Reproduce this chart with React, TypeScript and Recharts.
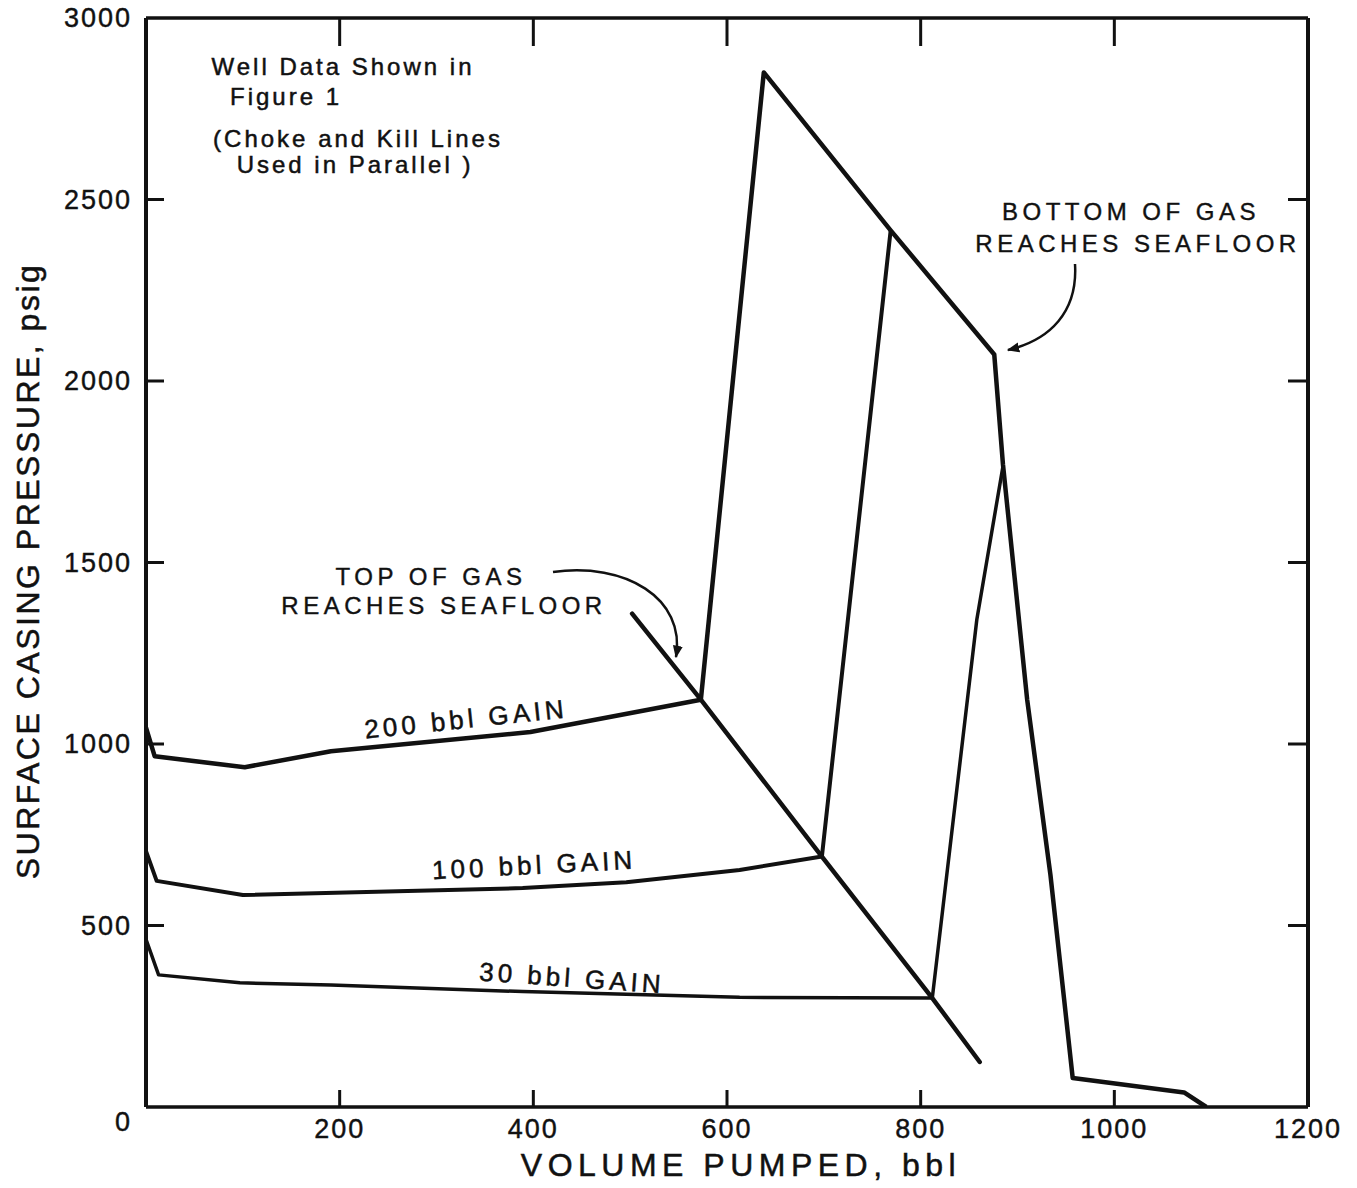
import React from 'react';
import { LineChart, Line, XAxis, YAxis } from 'recharts';

// axis ticks
const xTicks = [0, 200, 400, 600, 800, 1000, 1200];
const yTicks = [0, 500, 1000, 1500, 2000, 2500, 3000];

// volume pumped (bbl) vs surface casing pressure (psig)
const gain200 = [
  { x: 0, y: 1045 },
  { x: 9, y: 966 },
  { x: 102, y: 936 },
  { x: 191, y: 980 },
  { x: 397, y: 1033 },
  { x: 573, y: 1122 },
  { x: 638, y: 2850 },
  { x: 769, y: 2415 },
  { x: 876, y: 2073 },
  { x: 885, y: 1770 },
  { x: 910, y: 1122 },
  { x: 934, y: 640 },
  { x: 948, y: 300 },
  { x: 957, y: 80 },
  { x: 1072, y: 40 },
  { x: 1095, y: 0 },
];

const gain100 = [
  { x: 0, y: 705 },
  { x: 11, y: 623 },
  { x: 100, y: 584 },
  { x: 389, y: 603 },
  { x: 496, y: 619 },
  { x: 613, y: 653 },
  { x: 698, y: 690 },
  { x: 769, y: 2415 },
];

const gain30 = [
  { x: 0, y: 462 },
  { x: 13, y: 364 },
  { x: 97, y: 342 },
  { x: 191, y: 336 },
  { x: 389, y: 318 },
  { x: 613, y: 302 },
  { x: 812, y: 300 },
  { x: 858, y: 1343 },
  { x: 885, y: 1765 },
];

// "top of gas reaches seafloor" line
const topOfGas = [
  { x: 502, y: 1359 },
  { x: 573, y: 1122 },
  { x: 698, y: 690 },
  { x: 812, y: 300 },
  { x: 861, y: 124 },
];

const INK = '#111';
const FONT = '"Liberation Sans", Arial, sans-serif';

// inward tick marks drawn by hand, label only on bottom/left
const EdgeTick = (props: any) => {
  const { x, y, payload, side } = props;
  const v = payload.value;
  const edge = side === 'bottom' || side === 'top' ? v === 0 || v === 1200 : v === 0 || v === 3000;
  const lbl = { fontSize: 27, letterSpacing: 2, fill: INK, fontFamily: FONT, stroke: INK, strokeWidth: 0.4 };
  let mark = null;
  let label = null;
  if (side === 'bottom') {
    if (!edge) mark = <line x1={x} x2={x} y1={y} y2={y - 17} stroke={INK} strokeWidth={3} />;
    if (v !== 0) label = <text x={x} y={y + 12} dy="0.71em" textAnchor="middle" {...lbl}>{v}</text>;
  } else if (side === 'top') {
    if (!edge) mark = <line x1={x} x2={x} y1={y} y2={y + 28} stroke={INK} strokeWidth={3} />;
  } else if (side === 'left') {
    if (!edge) mark = <line x1={x} x2={x + 18} y1={y} y2={y} stroke={INK} strokeWidth={3} />;
    label = (
      <text x={x - 14} y={y + (v === 0 ? 15 : 0)} dy="0.35em" textAnchor="end" {...lbl}>
        {v}
      </text>
    );
  } else {
    if (!edge) mark = <line x1={x} x2={x - 20} y1={y} y2={y} stroke={INK} strokeWidth={3} />;
  }
  return (
    <g>
      {mark}
      {label}
    </g>
  );
};

const Notes = () => {
  const t = { fill: INK, fontFamily: FONT, textAnchor: 'middle' as const, dominantBaseline: 'central' as const };
  return (
    <svg width={1357} height={1188} style={{ position: 'absolute', left: 0, top: 0, pointerEvents: 'none' }}>
      <defs>
        <marker id="head" viewBox="0 0 10 10" refX="9" refY="5" markerWidth="5" markerHeight="5" orient="auto">
          <path d="M0,1 L10,5 L0,9 Z" fill={INK} />
        </marker>
      </defs>

      <g fontSize={24} letterSpacing={3} stroke={INK} strokeWidth={0.5}>
        <text {...t} x={343} y={66}>Well Data Shown in</text>
        <text {...t} x={286} y={96}>Figure 1</text>
        <text {...t} x={358} y={138}>(Choke and Kill Lines</text>
        <text {...t} x={355} y={164}>Used in Parallel )</text>
      </g>

      <g fontSize={24} letterSpacing={4.5} stroke={INK} strokeWidth={0.4}>
        <text {...t} x={1131} y={211}>BOTTOM OF GAS</text>
        <text {...t} x={1138} y={243}>REACHES SEAFLOOR</text>
        <text {...t} x={431} y={576}>TOP OF GAS</text>
        <text {...t} x={444} y={605}>REACHES SEAFLOOR</text>
      </g>

      <path d="M1075,264 C1078,312 1050,340 1008,350" fill="none" stroke={INK} strokeWidth={2.5} markerEnd="url(#head)" />
      <path d="M553,572 C625,562 686,598 676,657" fill="none" stroke={INK} strokeWidth={2.5} markerEnd="url(#head)" />

      <g fontSize={26} letterSpacing={4} stroke={INK} strokeWidth={0.5}>
        <text {...t} x={466} y={719} transform="rotate(-6 466 719)">200 bbl  GAIN</text>
        <text {...t} x={534} y={865} transform="rotate(-3 534 865)">100 bbl  GAIN</text>
        <text {...t} x={572} y={978} transform="rotate(4 572 978)">30 bbl  GAIN</text>
      </g>

      <text {...t} x={741} y={1165} fontSize={32} letterSpacing={5.5} stroke={INK} strokeWidth={0.5}>
        VOLUME PUMPED, bbl
      </text>
      <text {...t} x={28} y={571} fontSize={32} letterSpacing={2.5} stroke={INK} strokeWidth={0.5} transform="rotate(-90 28 571)">
        SURFACE CASING PRESSURE, psig
      </text>
    </svg>
  );
};

export default function App() {
  const axisLine = { stroke: INK, strokeWidth: 3.5 };
  return (
    <div style={{ position: 'absolute', left: 0, top: 0, width: 1357, height: 1188, background: '#fff' }}>
      <LineChart width={1357} height={1188} margin={{ top: 0, right: 0, bottom: 0, left: 0 }}>
        <XAxis
          xAxisId="bottom"
          dataKey="x"
          type="number"
          domain={[0, 1200]}
          ticks={xTicks}
          allowDataOverflow
          interval={0}
          height={81}
          axisLine={axisLine}
          tickLine={false}
          tickSize={0}
          tickMargin={0}
          tick={<EdgeTick side="bottom" />}
        />
        <XAxis
          xAxisId="top"
          orientation="top"
          dataKey="x"
          type="number"
          domain={[0, 1200]}
          ticks={xTicks}
          allowDataOverflow
          interval={0}
          height={18}
          axisLine={axisLine}
          tickLine={false}
          tickSize={0}
          tickMargin={0}
          tick={<EdgeTick side="top" />}
        />
        <YAxis
          yAxisId="left"
          dataKey="y"
          type="number"
          domain={[0, 3000]}
          ticks={yTicks}
          allowDataOverflow
          interval={0}
          width={146}
          axisLine={{ stroke: INK, strokeWidth: 4 }}
          tickLine={false}
          tickSize={0}
          tickMargin={0}
          tick={<EdgeTick side="left" />}
        />
        <YAxis
          yAxisId="right"
          orientation="right"
          dataKey="y"
          type="number"
          domain={[0, 3000]}
          ticks={yTicks}
          allowDataOverflow
          interval={0}
          width={49}
          axisLine={{ stroke: INK, strokeWidth: 4 }}
          tickLine={false}
          tickSize={0}
          tickMargin={0}
          tick={<EdgeTick side="right" />}
        />
        <Line xAxisId="bottom" yAxisId="left" data={gain30} dataKey="y" type="linear" dot={false} stroke={INK} strokeWidth={3.5} strokeLinejoin="round" isAnimationActive={false} />
        <Line xAxisId="bottom" yAxisId="left" data={gain100} dataKey="y" type="linear" dot={false} stroke={INK} strokeWidth={4} strokeLinejoin="round" isAnimationActive={false} />
        <Line xAxisId="bottom" yAxisId="left" data={gain200} dataKey="y" type="linear" dot={false} stroke={INK} strokeWidth={4.5} strokeLinejoin="round" isAnimationActive={false} />
        <Line xAxisId="bottom" yAxisId="left" data={topOfGas} dataKey="y" type="linear" dot={false} stroke={INK} strokeWidth={4.5} strokeLinecap="round" isAnimationActive={false} />
      </LineChart>
      <Notes />
    </div>
  );
}
